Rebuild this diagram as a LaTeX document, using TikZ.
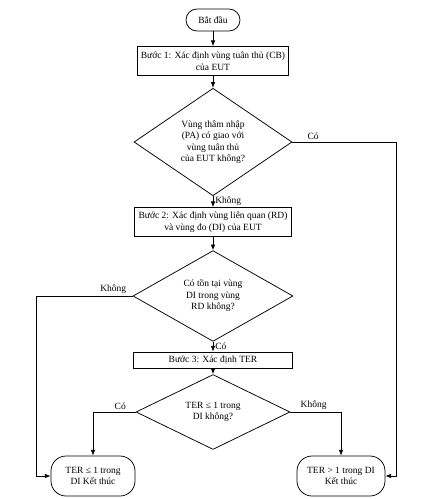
\documentclass[tikz,border=0pt]{standalone}
\usepackage{fontspec}
\setmainfont{Liberation Serif}
\usepackage{tikz}
\usetikzlibrary{positioning,arrows.meta,shapes.geometric}
\tikzset{
  flowarrow/.style={-{Latex[length=2mm,width=1.6mm]}, line width=0.75pt},
  termbox/.style={draw, line width=0.75pt, rounded corners=11pt, fill=white, minimum width=54pt, minimum height=22pt, align=center},
  stepbox/.style={draw, line width=0.75pt, fill=white, minimum width=155pt, minimum height=29pt, align=center, inner sep=1pt},
  decision/.style={draw, diamond, line width=0.75pt, fill=white, align=center, inner sep=0pt},
  endbox/.style={draw, line width=0.75pt, rounded corners=15pt, fill=white, minimum height=40pt, align=center},
  relabel/.style={inner sep=2pt}
}

\begin{document}
\begin{tikzpicture}[x=1pt, y=-1pt, >=Latex, every node/.style={font=\fontsize{9.5}{11.5}\selectfont}]
      \useasboundingbox (0,0) rectangle (425,499);
      % main column
      \node[termbox] (start) at (213,20) {Bắt đầu};
      \node[stepbox, minimum width=151pt] (s1) at (213,61) {Bước 1: Xác định vùng tuân thủ (CB)\\của EUT};
      \node[decision, minimum width=158pt, minimum height=102pt] (d1) at (213,142) {Vùng thâm nhập\\(PA) có giao với\\vùng tuân thủ\\của EUT không?};
      \node[stepbox, minimum width=157pt] (s2) at (213,222) {Bước 2: Xác định vùng liên quan (RD)\\và vùng đo (DI) của EUT};
      \node[decision, minimum width=160pt, minimum height=76pt] (d2) at (213,296) {Có tồn tại vùng\\DI trong vùng\\RD không?};
      \node[stepbox, minimum width=159pt, minimum height=16pt] (s3) at (213,360) {Bước 3: Xác định TER};
      \node[decision, minimum width=154pt, minimum height=53pt] (d3) at (213,412) {TER ≤ 1 trong\\DI không?};
      % end states
      \node[endbox, minimum width=84pt] (endL) at (93,476) {TER ≤ 1 trong\\DI Kết thúc};
      \node[endbox, minimum width=88pt] (endR) at (341,476) {TER \textgreater{} 1 trong DI\\Kết thúc};
      \coordinate (rturn) at (396,142);
      \coordinate (lturn) at (36,296);

      \draw[flowarrow] (start) -- (s1);
      \draw[flowarrow] (s1) -- (d1);
      \draw[flowarrow] (d1) -- node[relabel, right]{Không} (s2);
      \draw[flowarrow] (s2) -- (d2);
      \draw[flowarrow] (d2) -- node[relabel, right]{Có} (s3);
      \draw[flowarrow] (s3) -- (d3);
      \draw[flowarrow] (d1.east) -- node[relabel, above, pos=0.2]{Có} (rturn) |- (endR.east);
      \draw[flowarrow] (d2.west) -- node[relabel, above, pos=0.2]{Không} (lturn) |- (endL.west);
      \draw[flowarrow] (d3.west) -| node[relabel, above, pos=0.18]{Có} (endL.north);
      \draw[flowarrow] (d3.east) -| node[relabel, above, pos=0.23]{Không} (endR.north);
    \end{tikzpicture}
\end{document}
